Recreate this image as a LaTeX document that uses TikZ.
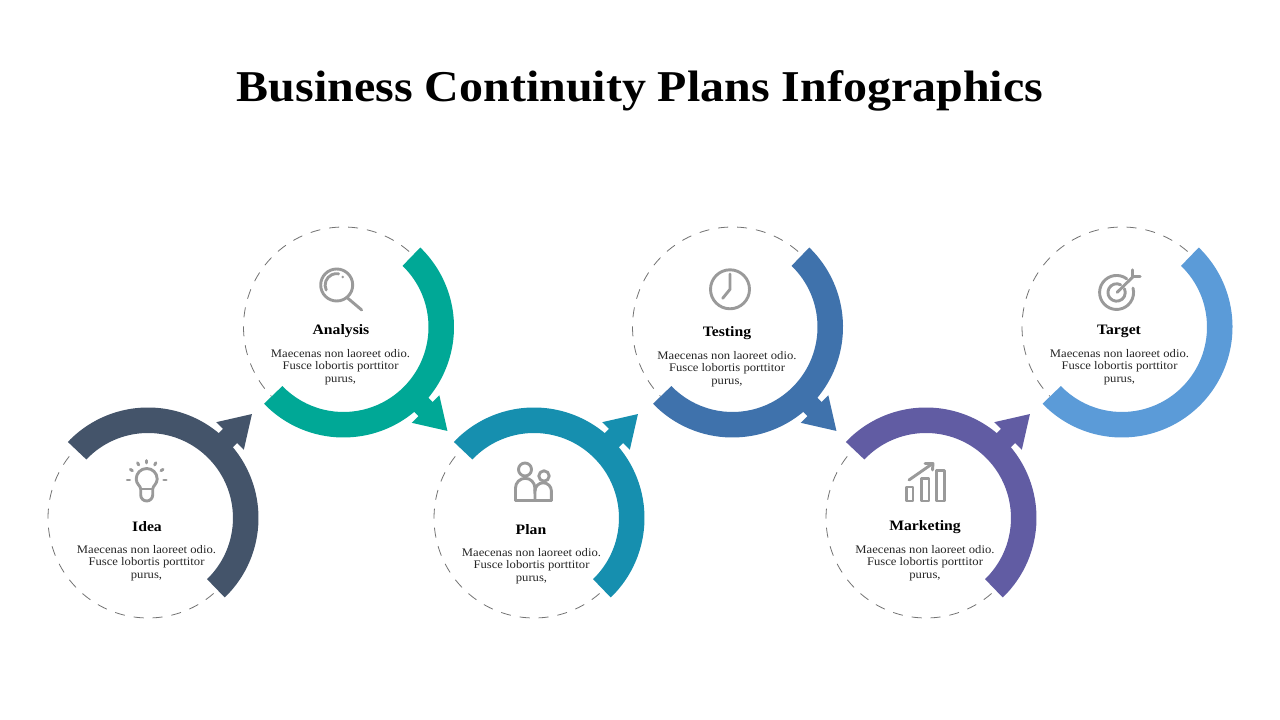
\documentclass[tikz,border=0pt]{standalone}
\usepackage{fontspec}
\setmainfont[FakeStretch=1.09]{Liberation Serif}
\usetikzlibrary{calc}
\definecolor{cA}{HTML}{44546A}
\definecolor{cB}{HTML}{00A896}
\definecolor{cC}{HTML}{168FAF}
\definecolor{cD}{HTML}{3F72AC}
\definecolor{cE}{HTML}{615CA3}
\definecolor{cF}{HTML}{5B9BD8}
\definecolor{ico}{HTML}{9A9A9A}
\tikzset{
  dashring/.style={draw=black!55,line width=.8pt,dash pattern=on 10pt off 9pt},
  ttl/.style={font=\bfseries\fontsize{44}{48}\selectfont,inner sep=0pt},
  hd/.style={font=\bfseries\fontsize{14.4}{18}\selectfont,inner sep=0pt},
  bd/.style={font=\fontsize{11.6}{12.4}\selectfont,align=center,inner sep=0pt,text=black!85},
  icon/.style={draw=ico,line width=2.9pt,fill=none,line cap=round,line join=round}
}
\newcommand{\bandpath}[4]{%
  \fill[#2] ($(#1)+(#3:110.5)$) arc[start angle=#3,end angle=#4,radius=110.5]
    -- ($(#1)+(#4:85)$) arc[start angle=#4,end angle=#3,radius=85] -- cycle;
}
\newcommand{\arrowat}[3]{%
  \begin{scope}[shift={(#1)},rotate=#3]
    \fill[#2] (100,-10) rectangle (117,10);
    \fill[#2] (116,-19.5) -- (147,0) -- (116,19.5) -- cycle;
  \end{scope}
}
\begin{document}
\begin{tikzpicture}[x=1pt,y=1pt]
\useasboundingbox (0,0) rectangle (1280,720);
\fill[white] (0,0) rectangle (1280,720);
\coordinate (c1) at (148,202);
\coordinate (c2) at (343.5,393);
\coordinate (c3) at (534,202);
\coordinate (c4) at (732.5,393);
\coordinate (c5) at (926,202);
\coordinate (c6) at (1122,393);
\node[ttl] (title) at (640,629) {Business Continuity Plans Infographics};
% dashed rings
\foreach \c in {c1,c3,c5}{\draw[dashring] (\c) ++(-49:100) arc[start angle=-49,end angle=-223,radius=100];}
\foreach \c in {c2,c4,c6}{\draw[dashring] (\c) ++(49:100) arc[start angle=49,end angle=224,radius=100];}
% bands
\bandpath{c1}{cA}{-46}{136.5}
\bandpath{c3}{cC}{-46}{136.5}
\bandpath{c5}{cE}{-46}{136.5}
\bandpath{c2}{cB}{224}{406}
\bandpath{c4}{cD}{224}{406}
\bandpath{c6}{cF}{224}{406}
% arrows
\arrowat{c1}{cA}{45}
\arrowat{c3}{cC}{45}
\arrowat{c5}{cE}{45}
\arrowat{c2}{cB}{-45}
\arrowat{c4}{cD}{-45}
% text
\node[hd] (h1) at (147,193) {Idea};
\node[bd] (b1) at (146.5,157) {Maecenas non laoreet odio.\\Fusce lobortis porttitor\\purus,};
\node[hd] (h2) at (341,389) {Analysis};
\node[bd] (b2) at (340.5,353) {Maecenas non laoreet odio.\\Fusce lobortis porttitor\\purus,};
\node[hd] (h3) at (531,190) {Plan};
\node[bd] (b3) at (531.5,154) {Maecenas non laoreet odio.\\Fusce lobortis porttitor\\purus,};
\node[hd] (h4) at (727,387) {Testing};
\node[bd] (b4) at (727,351) {Maecenas non laoreet odio.\\Fusce lobortis porttitor\\purus,};
\node[hd] (h5) at (925,193) {Marketing};
\node[bd] (b5) at (925,157) {Maecenas non laoreet odio.\\Fusce lobortis porttitor\\purus,};
\node[hd] (h6) at (1119,389) {Target};
\node[bd] (b6) at (1119.5,353) {Maecenas non laoreet odio.\\Fusce lobortis porttitor\\purus,};
% bulb
\begin{scope}[shift={(146.7,240)}]
  \draw[icon] (-6,-9) .. controls (-6,-6) and (-10.5,-4) .. (-10.5,1) arc[start angle=180,end angle=0,radius=10.5]
     .. controls (10.5,-4) and (6,-6) .. (6,-9) -- (6,-15) arc[start angle=0,end angle=-180,radius=6] -- cycle;
  \draw[icon] (-6,-9) -- (6,-9);
  \foreach \a in {0,33,62,90,118,147,180}{\draw[icon] (\a:17) -- (\a:19.5);}
\end{scope}
% magnifier
\begin{scope}[shift={(336.7,435)}]
  \draw[icon] (0,0) circle[radius=16];
  \draw[icon] (-10.5,-5) arc[start angle=205,end angle=80,radius=11.5];
  \fill[ico] (6,8) circle[radius=1.4];
  \draw[icon] (10,-12.3) -- (25,-25);
\end{scope}
% people
\begin{scope}[shift={(0,720)},yscale=-1]
  \draw[icon] (525,469.5) circle[radius=6.5];
  \draw[icon] (544,476) circle[radius=5.2];
  \draw[icon] (515.5,500.5) -- (515.5,488) arc[start angle=180,end angle=360,radius=9.7] -- (535,500.5);
  \draw[icon] (535,491) arc[start angle=180,end angle=360,radius=8.2] -- (551.4,500.5);
  \draw[icon] (515.5,500.5) -- (551.4,500.5);
\end{scope}
% clock
\begin{scope}[shift={(730,430.7)}]
  \draw[icon] (0,0) circle[radius=19.5];
  \draw[icon] (0,15.3) -- (0,0) -- (-7.3,-9);
\end{scope}
% chart
\begin{scope}[shift={(0,720)},yscale=-1]
  \draw[icon,line cap=butt] (906.5,487) rectangle (913,501);
  \draw[icon,line cap=butt] (921.7,478.5) rectangle (929,501);
  \draw[icon,line cap=butt] (936.7,470.5) rectangle (944.5,501);
  \draw[icon] (909,480) -- (932,464);
  \draw[icon] (925,463.5) -- (933,463.5) -- (932.5,470);
\end{scope}
% target
\begin{scope}[shift={(1116.7,427.7)}]
  \draw[icon] (10,13.5) arc[start angle=53.5,end angle=375,radius=17];
  \draw[icon] (4,7.5) arc[start angle=62,end angle=385,radius=8.7];
  \draw[icon] (0.5,0) -- (16.5,15.7);
  \draw[icon] (16,15.7) -- (16,22.5);
  \draw[icon] (16.5,15.7) -- (23.5,15.7);
\end{scope}
\end{tikzpicture}
\end{document}
